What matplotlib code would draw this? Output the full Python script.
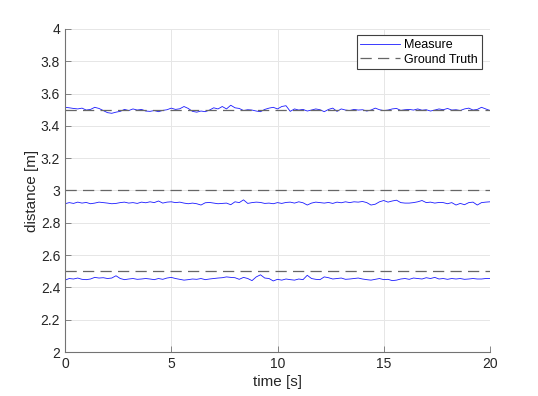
import numpy as np
import matplotlib.pyplot as plt

plt.rcParams['font.family'] = ['Liberation Sans', 'DejaVu Sans']

# time axis, 0.2 s steps
time = np.arange(101) * 0.2

# measured distances for the three runs
measure_35 = [3.515, 3.512, 3.508, 3.505, 3.510, 3.498, 3.502, 3.515, 3.508, 3.495,
              3.482, 3.478, 3.485, 3.490, 3.502, 3.495, 3.505, 3.498, 3.502, 3.492,
              3.490, 3.495, 3.488, 3.496, 3.500, 3.510, 3.502, 3.506, 3.520, 3.508,
              3.490, 3.485, 3.492, 3.488, 3.498, 3.512, 3.505, 3.520, 3.505, 3.528,
              3.512, 3.508, 3.495, 3.500, 3.498, 3.492, 3.488, 3.502, 3.510, 3.515,
              3.505, 3.520, 3.525, 3.490, 3.505, 3.498, 3.502, 3.492, 3.498, 3.505,
              3.500, 3.488, 3.502, 3.510, 3.490, 3.505, 3.498, 3.495, 3.502, 3.498,
              3.500, 3.492, 3.498, 3.510, 3.500, 3.495, 3.498, 3.505, 3.508, 3.496,
              3.500, 3.502, 3.498, 3.505, 3.497, 3.500, 3.492, 3.498, 3.505, 3.500,
              3.508, 3.498, 3.500, 3.495, 3.505, 3.510, 3.498, 3.502, 3.515, 3.505,
              3.495]

measure_30 = [2.918, 2.925, 2.920, 2.928, 2.922, 2.926, 2.918, 2.922, 2.928, 2.925,
              2.922, 2.918, 2.920, 2.925, 2.928, 2.922, 2.925, 2.920, 2.928, 2.924,
              2.930, 2.925, 2.935, 2.922, 2.928, 2.930, 2.925, 2.928, 2.922, 2.918,
              2.922, 2.918, 2.910, 2.924, 2.926, 2.922, 2.918, 2.920, 2.922, 2.912,
              2.930, 2.925, 2.942, 2.920, 2.925, 2.928, 2.926, 2.920, 2.922, 2.918,
              2.925, 2.920, 2.926, 2.928, 2.922, 2.930, 2.924, 2.910, 2.922, 2.928,
              2.925, 2.922, 2.926, 2.920, 2.928, 2.924, 2.930, 2.925, 2.930, 2.928,
              2.932, 2.925, 2.910, 2.915, 2.930, 2.938, 2.928, 2.935, 2.940, 2.925,
              2.922, 2.922, 2.925, 2.930, 2.938, 2.925, 2.928, 2.922, 2.926, 2.925,
              2.918, 2.925, 2.910, 2.920, 2.912, 2.925, 2.928, 2.910, 2.925, 2.928,
              2.930]

measure_25 = [2.445, 2.455, 2.452, 2.458, 2.450, 2.448, 2.452, 2.462, 2.458, 2.460,
              2.455, 2.458, 2.472, 2.455, 2.448, 2.452, 2.455, 2.450, 2.452, 2.455,
              2.452, 2.448, 2.455, 2.450, 2.458, 2.462, 2.455, 2.450, 2.445, 2.448,
              2.452, 2.450, 2.455, 2.448, 2.452, 2.455, 2.458, 2.460, 2.465, 2.462,
              2.460, 2.450, 2.462, 2.455, 2.442, 2.465, 2.478, 2.458, 2.455, 2.440,
              2.450, 2.445, 2.452, 2.448, 2.445, 2.452, 2.448, 2.475, 2.455, 2.450,
              2.448, 2.465, 2.460, 2.452, 2.455, 2.458, 2.450, 2.452, 2.455, 2.458,
              2.452, 2.448, 2.445, 2.450, 2.455, 2.448, 2.450, 2.442, 2.445, 2.452,
              2.455, 2.450, 2.458, 2.455, 2.452, 2.460, 2.455, 2.462, 2.452, 2.455,
              2.450, 2.455, 2.452, 2.455, 2.450, 2.452, 2.455, 2.452, 2.452, 2.455,
              2.455]

ground_truth = [3.5, 3.0, 2.5]
t_range = [0, 20]

fig = plt.figure(figsize=(5.38, 3.96), dpi=100)
ax = fig.add_axes([0.1208, 0.1111, 0.79, 0.8157])

for i, m in enumerate([measure_35, measure_30, measure_25]):
    ax.plot(time, m, color=(0.1, 0.1, 1), lw=0.6, label='Measure' if i == 0 else None)
for i, g in enumerate(ground_truth):
    ax.plot(t_range, [g, g], color=(0.4, 0.4, 0.4), lw=0.9, dashes=(9, 5),
            label='Ground Truth' if i == 0 else None)

ax.set_xlim(0, 20)
ax.set_ylim(2, 4)
ax.set_xticks([0, 5, 10, 15, 20])
ax.set_yticks(np.arange(2, 4.01, 0.2))
ax.set_yticklabels(['2', '2.2', '2.4', '2.6', '2.8', '3', '3.2', '3.4', '3.6', '3.8', '4'])
ax.grid(True, color=(0.9, 0.9, 0.9), lw=0.7)
ax.set_axisbelow(True)
ax.spines['top'].set_visible(False)
ax.spines['right'].set_visible(False)
for s in ['left', 'bottom']:
    ax.spines[s].set_color((0.45, 0.45, 0.45))
    ax.spines[s].set_linewidth(0.8)
ax.tick_params(direction='in', length=4, width=0.6, color=(0.45, 0.45, 0.45),
               labelsize=10, labelcolor=(0.15, 0.15, 0.15))
ax.set_xlabel('time [s]', fontsize=11, color=(0.15, 0.15, 0.15), labelpad=3)
ax.set_ylabel('distance [m]', fontsize=11, color=(0.15, 0.15, 0.15), labelpad=1)

leg = ax.legend(loc='upper right', bbox_to_anchor=(0.98, 0.98), fontsize=9,
                fancybox=False, framealpha=1, borderpad=0.3, labelspacing=0.2,
                handlelength=3.2, handletextpad=0.3, borderaxespad=0)
leg.get_frame().set_edgecolor((0.25, 0.25, 0.25))
leg.get_frame().set_linewidth(0.8)

fig.savefig('out.png', dpi=100)
